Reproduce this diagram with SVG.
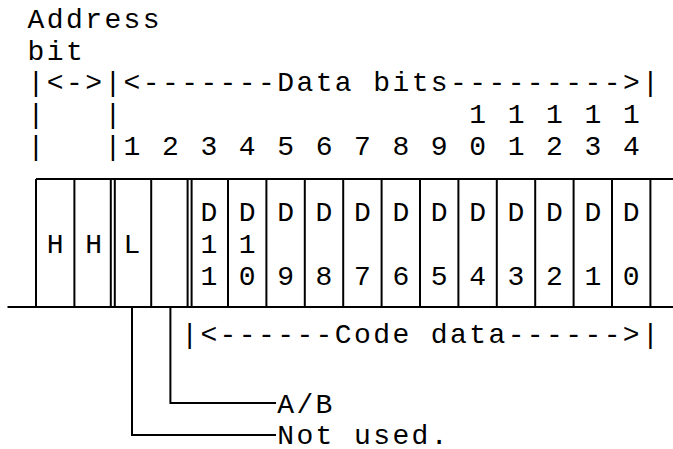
<svg xmlns="http://www.w3.org/2000/svg" width="673" height="449" viewBox="0 0 673 449">
  <style>
    text { font-family: "Liberation Mono", "Courier New", monospace; font-size: 28px; fill: #000; letter-spacing: 2.4px; white-space: pre; }
    .cell { text-anchor: middle; letter-spacing: 0; }
    .rule { stroke: #000; stroke-width: 2; fill: none; }
  </style>

  <!-- header: address / data bit ruler -->
  <g id="header" xml:space="preserve">
    <text x="27.6" y="28">Address</text>
    <text x="27.6" y="60">bit</text>
    <text x="27.6" y="91">|&lt;-&gt;|&lt;-------Data bits---------&gt;|</text>
    <text x="27.6" y="123">|   |                  1 1 1 1 1</text>
    <text x="27.6" y="155">|   |1 2 3 4 5 6 7 8 9 0 1 2 3 4</text>
  </g>

  <!-- frame of the bit table -->
  <g id="table-frame" class="rule">
    <line x1="36" y1="179" x2="673" y2="179"/>
    <line x1="7.5" y1="307" x2="673" y2="307"/>
    <path d="M36 179V307 M74.4 179V307 M110.8 179V307 M114.8 179V307 M151.2 179V307
             M187.6 179V307 M191.6 179V307 M228 179V307 M266.4 179V307 M304.8 179V307
             M343.2 179V307 M381.6 179V307 M420 179V307 M458.4 179V307 M496.8 179V307
             M535.2 179V307 M573.6 179V307 M612 179V307 M650.4 179V307"/>
  </g>

  <!-- address bits -->
  <g id="addr-bit-1"><text class="cell" x="55.2" y="253">H</text></g>
  <g id="addr-bit-2"><text class="cell" x="93.6" y="253">H</text></g>
  <!-- data bits 1 and 2 -->
  <g id="data-bit-1"><text class="cell" x="132" y="253">L</text></g>
  <g id="data-bit-2"></g>
  <!-- code data D11..D0 -->
  <g id="d11"><text class="cell" x="208.8" y="221">D</text><text class="cell" x="208.8" y="253">1</text><text class="cell" x="208.8" y="285">1</text></g>
  <g id="d10"><text class="cell" x="247.2" y="221">D</text><text class="cell" x="247.2" y="253">1</text><text class="cell" x="247.2" y="285">0</text></g>
  <g id="d9"><text class="cell" x="285.6" y="221">D</text><text class="cell" x="285.6" y="285">9</text></g>
  <g id="d8"><text class="cell" x="324" y="221">D</text><text class="cell" x="324" y="285">8</text></g>
  <g id="d7"><text class="cell" x="362.4" y="221">D</text><text class="cell" x="362.4" y="285">7</text></g>
  <g id="d6"><text class="cell" x="400.8" y="221">D</text><text class="cell" x="400.8" y="285">6</text></g>
  <g id="d5"><text class="cell" x="439.2" y="221">D</text><text class="cell" x="439.2" y="285">5</text></g>
  <g id="d4"><text class="cell" x="477.6" y="221">D</text><text class="cell" x="477.6" y="285">4</text></g>
  <g id="d3"><text class="cell" x="516" y="221">D</text><text class="cell" x="516" y="285">3</text></g>
  <g id="d2"><text class="cell" x="554.4" y="221">D</text><text class="cell" x="554.4" y="285">2</text></g>
  <g id="d1"><text class="cell" x="592.8" y="221">D</text><text class="cell" x="592.8" y="285">1</text></g>
  <g id="d0"><text class="cell" x="631.2" y="221">D</text><text class="cell" x="631.2" y="285">0</text></g>

  <!-- code data span -->
  <g id="code-data" xml:space="preserve">
    <text x="181.2" y="343">|&lt;------Code data------&gt;|</text>
  </g>

  <!-- leader lines from bits 1 and 2 -->
  <g id="connectors" class="rule">
    <path d="M170.4 307V403H276"/>
    <path d="M132 307V435H276"/>
  </g>

  <g id="label-ab"><text x="277.2" y="413">A/B</text></g>
  <g id="label-not-used"><text x="277.2" y="444">Not used.</text></g>
</svg>
